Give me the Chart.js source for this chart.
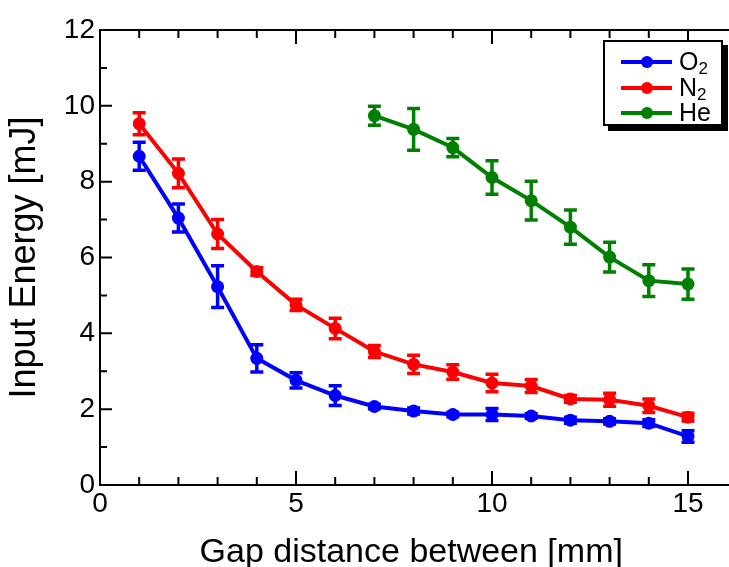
<!DOCTYPE html>
<html>
<head>
<meta charset="utf-8">
<script src="https://cdn.jsdelivr.net/npm/chart.js@4"></script>
<style>
  html, body { margin: 0; padding: 0; background: #fff; overflow: hidden; }
  #wrap { position: relative; width: 729px; height: 567px; }
  #legend {
    position: absolute; left: 603px; top: 40px; width: 116px; height: 82px;
    border: 2px solid #000; background: #fff; box-shadow: 5px 5px 0 #000;
    font-family: "Liberation Sans", Arial, sans-serif; font-size: 25px; color: #000;
  }
  .row { position: absolute; left: 0; height: 25px; width: 116px; }
  .row .ln { position: absolute; left: 16px; top: 11px; width: 51px; height: 4px; }
  .row .dot { position: absolute; left: 36px; top: 7px; width: 12px; height: 12px; border-radius: 50%; }
  .row .txt { position: absolute; left: 74px; top: -2px; line-height: 28px; }
  .row sub { font-size: 17px; vertical-align: -4px; line-height: 0; }
</style>
</head>
<body>
<div id="wrap">
  <canvas id="myChart" width="729" height="567"></canvas>
  <div id="legend"></div>
</div>
<script>
const gapO2 = [1, 2, 3, 4, 5, 6, 7, 8, 9, 10, 11, 12, 13, 14, 15];
const energyO2 = [8.67, 7.04, 5.23, 3.34, 2.76, 2.36, 2.07, 1.95, 1.86, 1.86, 1.82, 1.71, 1.68, 1.63, 1.28];
const errO2 = [0.37, 0.37, 0.55, 0.36, 0.2, 0.26, 0.06, 0.08, 0.06, 0.16, 0.06, 0.08, 0.07, 0.09, 0.15];

const gapN2 = [1, 2, 3, 4, 5, 6, 7, 8, 9, 10, 11, 12, 13, 14, 15];
const energyN2 = [9.53, 8.22, 6.62, 5.63, 4.75, 4.13, 3.52, 3.18, 2.98, 2.69, 2.61, 2.27, 2.25, 2.09, 1.79];
const errN2 = [0.29, 0.38, 0.38, 0.1, 0.15, 0.27, 0.16, 0.24, 0.19, 0.23, 0.17, 0.09, 0.17, 0.18, 0.1];

const gapHe = [7, 8, 9, 10, 11, 12, 13, 14, 15];
const energyHe = [9.74, 9.38, 8.9, 8.11, 7.5, 6.8, 6.01, 5.39, 5.3];
const errHe = [0.25, 0.55, 0.24, 0.44, 0.51, 0.45, 0.39, 0.42, 0.4];

const xTicks = [0, 5, 10, 15];
const yTicks = [0, 2, 4, 6, 8, 10, 12];

const series = [
  { name: "O", sub: "2", color: "#0000ff", xs: gapO2, ys: energyO2, err: errO2 },
  { name: "N", sub: "2", color: "#ff0000", xs: gapN2, ys: energyN2, err: errN2 },
  { name: "He", sub: "", color: "#008000", xs: gapHe, ys: energyHe, err: errHe },
];

const FONT = "'Liberation Sans', Arial, sans-serif";

// error bars, drawn with the scales
const errorBars = {
  id: "errorBars",
  beforeDatasetsDraw(chart) {
    const c = chart.ctx;
    const y = chart.scales.y;
    chart.data.datasets.forEach((ds, i) => {
      const meta = chart.getDatasetMeta(i);
      c.save();
      c.strokeStyle = ds.borderColor;
      c.lineWidth = 3.5;
      meta.data.forEach((pt, j) => {
        const v = ds.data[j].y, e = ds.errors[j];
        const top = y.getPixelForValue(v + e), bot = y.getPixelForValue(v - e);
        c.beginPath();
        c.moveTo(pt.x, top); c.lineTo(pt.x, bot);
        c.moveTo(pt.x - 6.5, top); c.lineTo(pt.x + 6.5, top);
        c.moveTo(pt.x - 6.5, bot); c.lineTo(pt.x + 6.5, bot);
        c.stroke();
      });
      c.restore();
    });
  },
};

// frame with inward ticks
const frame = {
  id: "frame",
  afterDraw(chart) {
    const c = chart.ctx;
    const a = chart.chartArea;
    const xs = chart.scales.x, ys = chart.scales.y;
    c.save();
    c.strokeStyle = "#000";
    c.lineWidth = 2;
    c.beginPath();
    c.moveTo(chart.width, a.top); c.lineTo(a.left, a.top);
    c.lineTo(a.left, a.bottom); c.lineTo(chart.width, a.bottom);
    for (let i = 0; i <= 15; i++) {
      const px = xs.getPixelForValue(i);
      const len = i % 5 === 0 ? 14 : 8;
      c.moveTo(px, a.bottom); c.lineTo(px, a.bottom - len);
      c.moveTo(px, a.top); c.lineTo(px, a.top + len);
    }
    for (let i = 0; i <= 12; i++) {
      const py = ys.getPixelForValue(i);
      const len = i % 2 === 0 ? 12 : 7;
      c.moveTo(a.left, py); c.lineTo(a.left + len, py);
    }
    c.stroke();
    c.restore();
  },
};

const ctx = document.getElementById("myChart");
const myChart = new Chart(ctx, {
  type: "line",
  data: {
    datasets: series.map((s) => ({
      label: s.name + s.sub,
      data: s.xs.map((x, i) => ({ x: x, y: s.ys[i] })),
      errors: s.err,
      borderColor: s.color,
      backgroundColor: s.color,
      borderWidth: 4,
      pointRadius: 6.5,
      pointBorderWidth: 0,
      tension: 0,
    })),
  },
  options: {
    responsive: false,
    devicePixelRatio: 1,
    animation: false,
    events: [],
    layout: { padding: { top: 30, right: 0, left: 0, bottom: 0 } },
    plugins: { legend: { display: false }, tooltip: { enabled: false } },
    scales: {
      x: {
        type: "linear",
        min: 0,
        max: 15.88,
        grid: { display: false, drawTicks: false },
        border: { display: false },
        afterBuildTicks: (s) => { s.ticks = xTicks.map((v) => ({ value: v })); },
        afterFit: (s) => { s.height = 82; },
        ticks: { color: "#000", padding: 2, font: { family: FONT, size: 28 } },
        title: {
          display: true,
          text: "Gap distance between [mm]",
          color: "#000",
          font: { family: FONT, size: 34 },
          padding: { top: 0, bottom: -6 },
        },
      },
      y: {
        min: 0,
        max: 12,
        grid: { display: false, drawTicks: false },
        border: { display: false },
        afterBuildTicks: (s) => { s.ticks = yTicks.map((v) => ({ value: v })); },
        afterFit: (s) => { s.width = 100; },
        ticks: { color: "#000", padding: 5, font: { family: FONT, size: 28 } },
        title: {
          display: true,
          text: "Input Energy [mJ]",
          color: "#000",
          font: { family: FONT, size: 36 },
          padding: { top: 3, bottom: 0 },
        },
      },
    },
  },
  plugins: [errorBars, frame],
});

// legend
const legend = document.getElementById("legend");
series.forEach((s, i) => {
  const row = document.createElement("div");
  row.className = "row";
  row.style.top = (7 + i * 25.5) + "px";
  row.innerHTML =
    '<div class="ln" style="background:' + s.color + '"></div>' +
    '<div class="dot" style="background:' + s.color + '"></div>' +
    '<div class="txt">' + s.name + (s.sub ? "<sub>" + s.sub + "</sub>" : "") + "</div>";
  legend.appendChild(row);
});
</script>
</body>
</html>
